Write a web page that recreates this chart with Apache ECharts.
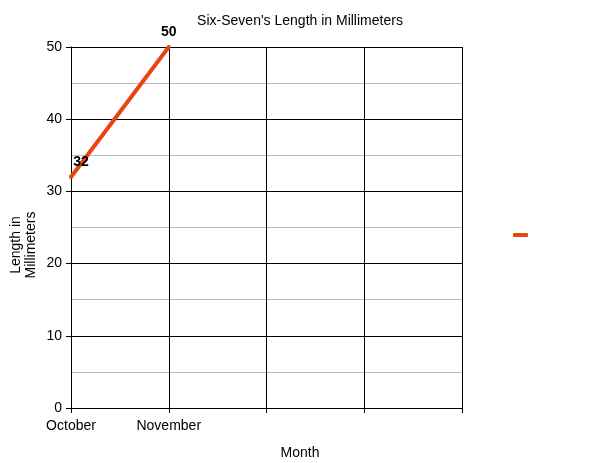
<!DOCTYPE html>
<html>
<head>
<meta charset="utf-8">
<script src="https://cdn.jsdelivr.net/npm/echarts@6/dist/echarts.min.js"></script>
<style>html,body{margin:0;padding:0;background:#fff}#c{width:600px;height:463px}</style>
</head>
<body>
<div id="c"></div>
<script>
var categories = ['October', 'November', '', '', ''];
var lengths = [32, 50, null, null, null];
var yTicks = [0, 10, 20, 30, 40, 50];

var chart = echarts.init(document.getElementById('c'), null, {renderer: 'canvas'});
var font = 'Liberation Sans, Arial, sans-serif';
var lineColor = '#e6460f';
chart.setOption({
  animation: false,
  textStyle: {fontFamily: font},
  title: [{
    text: "Six-Seven's Length in Millimeters",
    left: 'center', top: 9,
    textStyle: {fontSize: 14, fontWeight: 'normal', color: '#000', fontFamily: font}
  }, {
    text: 'Month',
    left: 'center', top: 441,
    textStyle: {fontSize: 14, fontWeight: 'normal', color: '#000', fontFamily: font}
  }],
  graphic: [{
    type: 'text',
    x: 24, y: 245,
    rotation: Math.PI / 2,
    style: {
      text: 'Length in\nMillimeters',
      fill: '#000',
      font: '14px ' + font,
      textAlign: 'center',
      textVerticalAlign: 'middle',
      lineHeight: 15
    }
  }],
  legend: {
    left: 513, top: 233, padding: 0,
    icon: 'roundRect', itemWidth: 15, itemHeight: 4,
    itemStyle: {color: lineColor, opacity: 1},
    textStyle: {fontSize: 1, color: '#fff'},
    itemGap: 0,
    data: [' ']
  },
  grid: {left: 71, right: 138, top: 47, bottom: 55, containLabel: false},
  xAxis: {
    type: 'category',
    data: categories,
    boundaryGap: false,
    axisLine: {lineStyle: {color: '#000', width: 1}},
    axisTick: {show: true, length: 5, lineStyle: {color: '#000'}, alignWithLabel: true},
    axisLabel: {fontSize: 14, color: '#000', margin: 11, fontFamily: font, interval: 0},
    splitLine: {show: true, lineStyle: {color: '#000', width: 1}}
  },
  yAxis: {
    type: 'value',
    min: yTicks[0], max: yTicks[yTicks.length - 1], interval: 10,
    axisLine: {show: true, lineStyle: {color: '#000', width: 1}},
    axisTick: {show: true, length: 5, lineStyle: {color: '#000'}},
    axisLabel: {fontSize: 14, color: '#000', margin: 9, fontFamily: font},
    splitLine: {show: true, lineStyle: {color: '#000', width: 1}},
    minorTick: {show: false, splitNumber: 2},
    minorSplitLine: {show: true, lineStyle: {color: '#bbbbbb', width: 1}}
  },
  series: [{
    name: ' ',
    type: 'line',
    data: lengths.map(function (v, i) {
      if (v === null) return null;
      return i === 0
        ? {value: v, label: {offset: [10, 0]}}
        : v;
    }),
    connectNulls: false,
    showSymbol: true,
    showAllSymbol: true,
    symbol: 'circle',
    symbolSize: 4,
    lineStyle: {color: lineColor, width: 4},
    itemStyle: {color: lineColor, borderWidth: 0},
    label: {
      show: true, position: 'top', distance: 6,
      fontSize: 14, fontWeight: 'bold', color: '#000', fontFamily: font
    }
  }]
});
</script>
</body>
</html>
